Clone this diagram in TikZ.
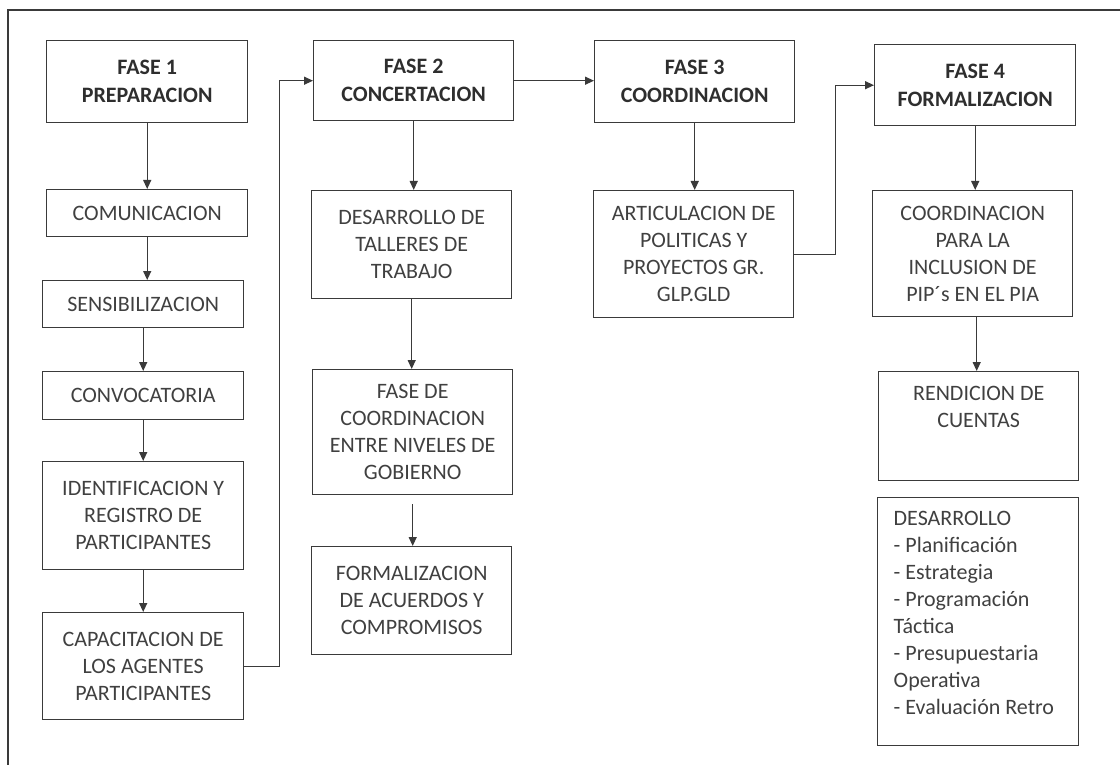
\documentclass[tikz,border=0pt]{standalone}
\usepackage{fontspec}
\setmainfont{Carlito}
\usetikzlibrary{arrows.meta}
\definecolor{linec}{HTML}{3A3A3A}
\definecolor{txtc}{HTML}{404040}
\begin{document}
\begin{tikzpicture}[x=1pt,y=-1pt,
  bx/.style={draw=linec, line width=1.4pt, anchor=north west, inner sep=0pt, align=center, text=txtc, font=\fontsize{22}{27}\selectfont},
  pb/.style={draw=linec, line width=1.4pt, anchor=north west, inner sep=0pt, text=txtc, font=\fontsize{22}{27}\selectfont},
  hd/.style={bx, font=\fontsize{22}{28}\selectfont\bfseries, text=black!82},
  arr/.style={draw=linec, line width=1.3pt, -{Triangle[length=9pt,width=8pt]}},
  ln/.style={draw=linec, line width=1.3pt}]
\useasboundingbox (0,0) rectangle (1120,765);
% frame
\coordinate (fbl) at (8,765);
\coordinate (ftl) at (8,10);
\coordinate (ftr) at (1120,10);
\draw[ln] (fbl) -- (ftl) -- (ftr);
% headers
\node[hd, minimum width=201pt, minimum height=82pt] (f1) at (46,40) {FASE 1\\PREPARACION};
\node[hd, minimum width=200pt, minimum height=80pt] (f2) at (313,40) {FASE 2\\CONCERTACION};
\node[hd, minimum width=200pt, minimum height=82pt] (f3) at (594,40) {FASE 3\\COORDINACION};
\node[hd, minimum width=201pt, minimum height=81pt] (f4) at (874,44) {FASE 4\\FORMALIZACION};
% column 1
\node[bx, minimum width=201pt, minimum height=47pt] (com) at (46,189) {COMUNICACION};
\node[bx, minimum width=201pt, minimum height=47pt] (sen) at (42,280) {SENSIBILIZACION};
\node[bx, minimum width=201pt, minimum height=48pt] (conv) at (42,371) {CONVOCATORIA};
\node[bx, minimum width=201pt, minimum height=108pt] (iden) at (42,461) {IDENTIFICACION Y\\REGISTRO DE\\PARTICIPANTES};
\node[bx, minimum width=201pt, minimum height=107pt] (cap) at (42,612) {CAPACITACION DE\\LOS AGENTES\\PARTICIPANTES};
% column 2
\node[bx, minimum width=200pt, minimum height=108pt] (des) at (311,190) {DESARROLLO DE\\TALLERES DE\\TRABAJO};
\node[bx, minimum width=200pt, minimum height=125pt] (fasede) at (312,369) {FASE DE\\COORDINACION\\ENTRE NIVELES DE\\GOBIERNO};
\node[bx, minimum width=200pt, minimum height=108pt] (form) at (311,546) {FORMALIZACION\\DE ACUERDOS Y\\COMPROMISOS};
% column 3
\node[bx, minimum width=200pt, minimum height=127pt] (art) at (593,190) {ARTICULACION DE\\POLITICAS Y\\PROYECTOS GR.\\GLP.GLD};
% column 4
\node[bx, minimum width=200pt, minimum height=126pt] (coord) at (872,190) {COORDINACION\\PARA LA\\INCLUSION DE\\PIP´s EN EL PIA};
\node[pb, minimum width=200pt, minimum height=109pt] (rend) at (878,371) {\parbox[c][109pt][t]{200pt}{\centering\vspace*{15pt}RENDICION DE\\CUENTAS}};
\node[pb, minimum width=201pt, minimum height=248pt] (list) at (877,497) {\parbox[c][248pt][t]{201pt}{\raggedright\leftskip=16pt\vspace*{14pt}DESARROLLO\\- Planificación\\- Estrategia\\- Programación\\Táctica\\- Presupuestaria\\Operativa\\- Evaluación Retro}};
% connectors column 1
\draw[arr] (f1.south) -- (f1.south |- com.north);
\draw[arr] (com.south) -- (com.south |- sen.north);
\draw[arr] (sen.south) -- (conv.north);
\draw[arr] (conv.south) -- (iden.north);
\draw[arr] (iden.south) -- (cap.north);
\draw[arr] (cap.east) -- ++(35,0) |- (f2.west);
% column 2
\draw[arr] (f2.south) -- (f2.south |- des.north);
\draw[arr] (des.south) -- (fasede.north -| des.south);
\draw[arr] ([yshift=-9pt]fasede.south) -- (fasede.south |- form.north);
\draw[arr] (f2.east) -- (f2.east -| f3.west);
% column 3
\draw[arr] (f3.south) -- (f3.south |- art.north);
\draw[arr] (art.east) -- ++(41,0) |- (f4.west);
% column 4
\draw[arr] (f4.south) -- (f4.south |- coord.north);
\draw[arr] ([xshift=4pt]coord.south) -- ([xshift=4pt]coord.south |- rend.north);
\end{tikzpicture}
\end{document}
